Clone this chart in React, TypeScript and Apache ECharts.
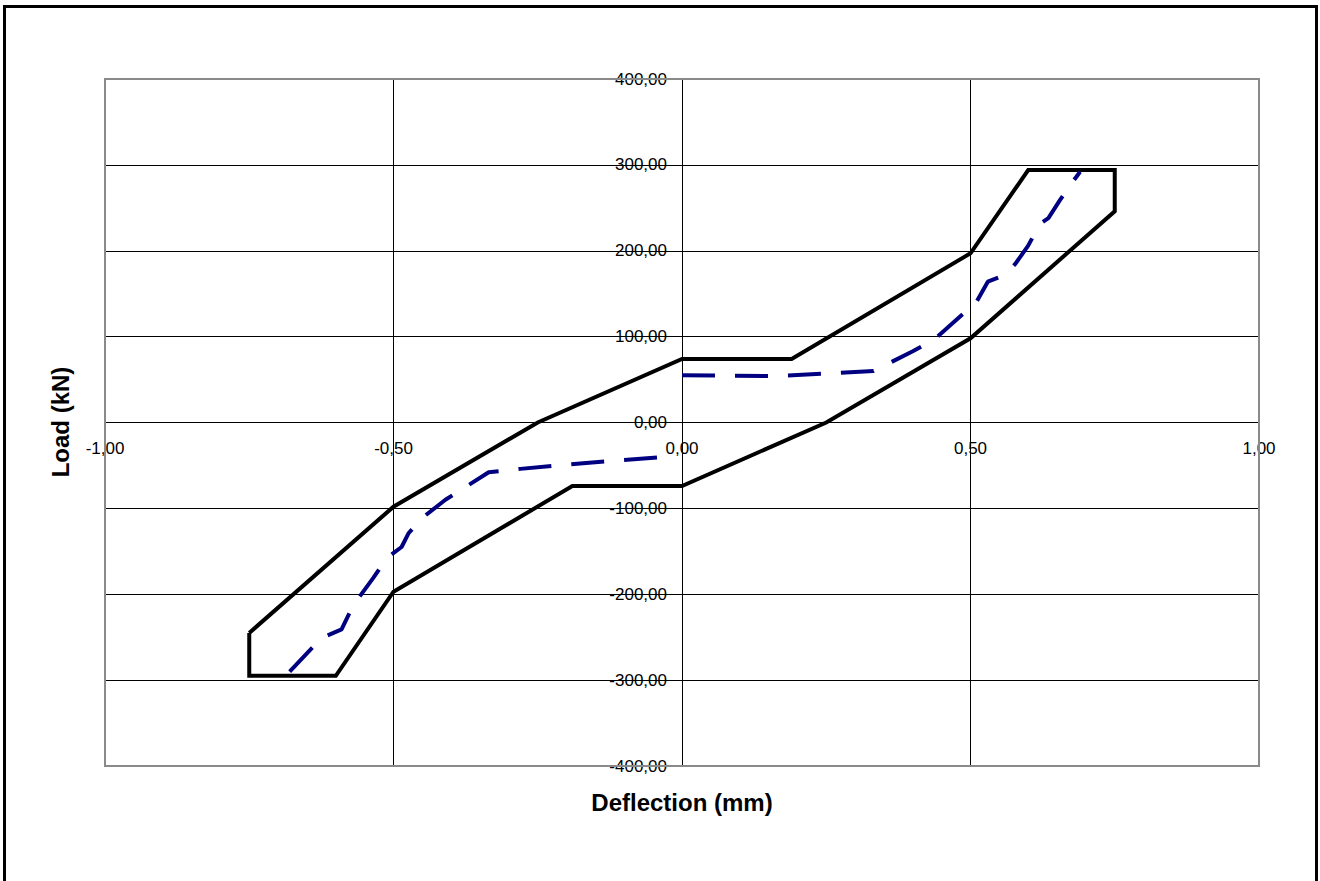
import React, { useEffect, useRef } from "react";
import * as echarts from "echarts";

// Tick settings
const xMin = -1;
const xMax = 1;
const xStep = 0.5;
const yMin = -400;
const yMax = 400;
const yStep = 100;

// Envelope polygon (closed), deflection (mm) vs load (kN)
const envelopeX = [-0.75, -0.75, -0.6, -0.5, -0.19, 0, 0.25, 0.5, 0.75, 0.75, 0.6, 0.5, 0.19, 0, -0.25, -0.5, -0.75];
const envelopeY = [-245, -295, -295, -197, -74, -74, 0, 98, 246, 294, 294, 197, 74, 74, 0, -98, -245];

// Measured curve, negative branch
const testLeftX = [-0.68, -0.625, -0.59, -0.57, -0.535, -0.512, -0.486, -0.474, -0.45, -0.41, -0.335, -0.28, -0.13, -0.028];
const testLeftY = [-290, -251, -241, -213, -181, -158, -145, -129, -111, -90, -58, -54, -45, -40];

// Measured curve, positive branch
const testRightX = [0, 0.16, 0.332, 0.4, 0.436, 0.51, 0.53, 0.56, 0.578, 0.6, 0.62, 0.635, 0.655, 0.67, 0.69];
const testRightY = [55, 54, 60, 83, 96, 140, 164, 172, 185, 206, 231, 238, 259, 274, 292];

const FONT = "'Liberation Sans', Arial, sans-serif";

const zip = (xs: number[], ys: number[]) => xs.map((x, i) => [x, ys[i]]);
const fmt = (v: number) => v.toFixed(2).replace(".", ",");

export default function App() {
  const ref = useRef<HTMLDivElement>(null);

  useEffect(() => {
    document.body.style.margin = "0";
    if (!ref.current) return;
    const chart = echarts.init(ref.current, undefined, { renderer: "svg" });
    const W = 1320;
    const H = 881;
    const gridLeft = 105;
    const gridTop = 79;
    const gridRight = 61;
    const gridBottom = 115;
    const gw = W - gridLeft - gridRight;
    const gh = H - gridTop - gridBottom;
    // put axis lines through the origin (centre of the symmetric ranges)
    const yAxisOffset = -gw * ((0 - xMin) / (xMax - xMin));
    const xAxisOffset = -gh * ((0 - yMin) / (yMax - yMin));
    chart.setOption({
      animation: false,
      backgroundColor: "#ffffff",
      grid: { left: gridLeft, top: gridTop, right: gridRight, bottom: gridBottom, show: false },
      xAxis: {
        type: "value",
        min: xMin,
        max: xMax,
        interval: xStep,
        position: "bottom",
        offset: xAxisOffset,
        axisLine: { show: true, onZero: false, lineStyle: { color: "#000", width: 1 } },
        axisTick: { show: true, length: 5, lineStyle: { color: "#000", width: 1 } },
        axisLabel: {
          formatter: fmt,
          fontSize: 17,
          color: "#000",
          margin: 17,
          fontFamily: FONT,
          showMinLabel: true,
          showMaxLabel: true,
        },
        splitLine: { show: true, lineStyle: { color: "#000", width: 1 } },
      },
      yAxis: {
        type: "value",
        min: yMin,
        max: yMax,
        interval: yStep,
        position: "left",
        offset: yAxisOffset,
        axisLine: { show: true, onZero: false, lineStyle: { color: "#000", width: 1 } },
        axisTick: { show: true, length: 5, lineStyle: { color: "#000", width: 1 } },
        axisLabel: {
          formatter: fmt,
          fontSize: 17,
          color: "#000",
          margin: 15,
          fontFamily: FONT,
          showMinLabel: true,
          showMaxLabel: true,
        },
        splitLine: { show: true, lineStyle: { color: "#000", width: 1 } },
      },
      graphic: [
        {
          type: "rect",
          z: 100,
          silent: true,
          shape: { x: gridLeft, y: gridTop, width: gw, height: gh },
          style: { fill: "none", stroke: "#8a8a8a", lineWidth: 2 },
        },
        {
          type: "rect",
          z: 100,
          silent: true,
          shape: { x: 4.5, y: 6.5, width: 1312, height: 900 },
          style: { fill: "none", stroke: "#000", lineWidth: 3 },
        },
        {
          type: "text",
          z: 100,
          x: 682,
          y: 802,
          style: {
            text: "Deflection (mm)",
            font: `bold 24px ${FONT}`,
            fill: "#000",
            align: "center",
            verticalAlign: "middle",
          },
        },
        {
          type: "text",
          z: 100,
          x: 60,
          y: 422,
          rotation: Math.PI / 2,
          style: {
            text: "Load (kN)",
            font: `bold 24px ${FONT}`,
            fill: "#000",
            align: "center",
            verticalAlign: "middle",
          },
        },
      ],
      series: [
        {
          name: "Envelope",
          type: "line",
          data: zip(envelopeX, envelopeY),
          symbol: "none",
          lineStyle: { color: "#000", width: 4, join: "miter" },
          z: 3,
        },
        {
          name: "Test left",
          type: "line",
          data: zip(testLeftX, testLeftY),
          symbol: "none",
          lineStyle: { color: "#000080", width: 4, type: [33, 20] },
          z: 4,
        },
        {
          name: "Test right",
          type: "line",
          data: zip(testRightX, testRightY),
          symbol: "none",
          lineStyle: { color: "#000080", width: 4, type: [33, 20] },
          z: 4,
        },
      ],
    });
    return () => chart.dispose();
  }, []);

  return <div ref={ref} style={{ width: 1320, height: 881 }} />;
}
